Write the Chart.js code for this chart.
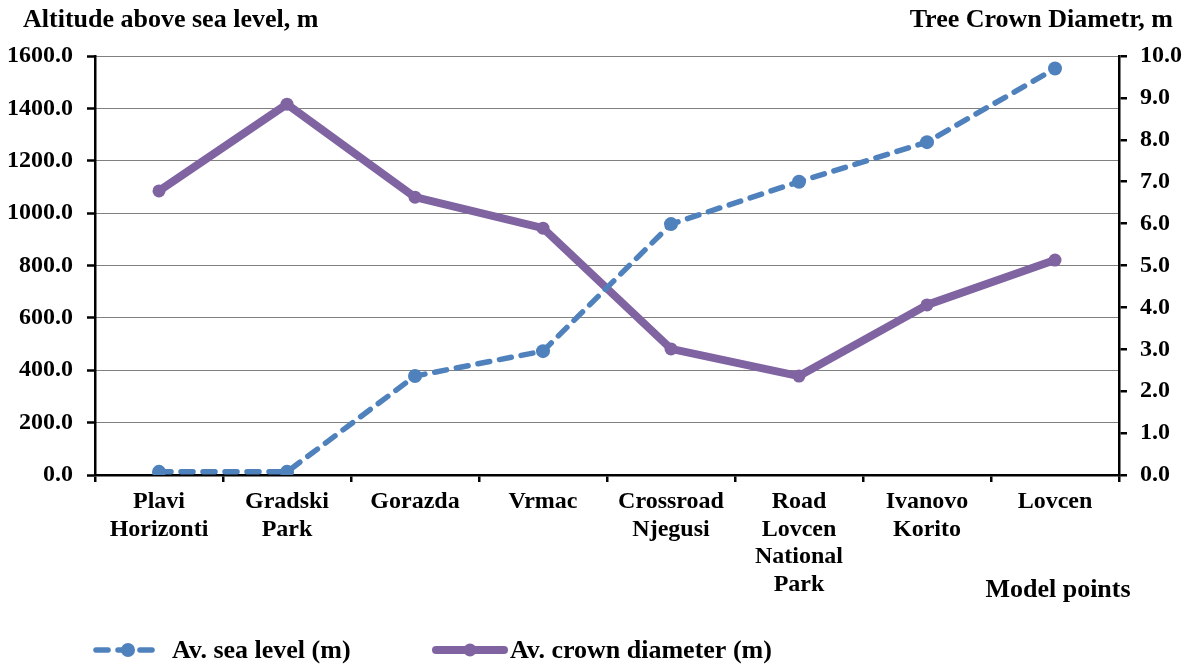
<!DOCTYPE html>
<html>
<head>
<meta charset="utf-8">
<script src="https://cdn.jsdelivr.net/npm/chart.js@4/dist/chart.umd.min.js"></script>
<style>
  html, body { margin: 0; padding: 0; background: #fff; }
  #wrap { width: 1192px; height: 667px; }
</style>
</head>
<body>
<div id="wrap"><canvas id="c" width="1192" height="667"></canvas></div>
<script>
// ---- data ----
const categories = [
  ['Plavi', 'Horizonti'],
  ['Gradski', 'Park'],
  'Gorazda',
  'Vrmac',
  ['Crossroad', 'Njegusi'],
  ['Road', 'Lovcen', 'National', 'Park'],
  ['Ivanovo', 'Korito'],
  'Lovcen'
];
const seaLevel = [12, 12, 378, 473, 958, 1120, 1271, 1552];
const crownDiameter = [6.78, 8.85, 6.63, 5.89, 3.01, 2.36, 4.06, 5.13];
const seriesNames = ['Av. sea level (m)', 'Av. crown diameter (m)'];
const leftTitle = 'Altitude above sea level, m';
const rightTitle = 'Tree Crown Diametr, m';
const xTitle = 'Model points';

const BLUE = '#4F81BD';
const PURPLE = '#8064A2';
const FONT = 'Liberation Serif';

const extras = {
  id: 'extras',
  afterDraw(chart) {
    const ctx = chart.ctx;
    ctx.save();
    ctx.fillStyle = '#000';
    ctx.font = 'bold 26px "' + FONT + '"';
    ctx.textBaseline = 'alphabetic';
    ctx.textAlign = 'left';
    ctx.fillText(leftTitle, 23, 27);
    ctx.textAlign = 'right';
    ctx.fillText(rightTitle, 1173, 27);
    ctx.textAlign = 'center';
    ctx.fillText(xTitle, 1058, 597);

    // legend
    const ly = 650;
    ctx.strokeStyle = BLUE;
    ctx.lineWidth = 5.5;
    ctx.lineCap = 'round';
    ctx.setLineDash([12, 10]);
    ctx.beginPath(); ctx.moveTo(96, ly); ctx.lineTo(158, ly); ctx.stroke();
    ctx.setLineDash([]);
    ctx.fillStyle = BLUE;
    ctx.beginPath(); ctx.arc(128, ly, 7, 0, Math.PI * 2); ctx.fill();
    ctx.strokeStyle = PURPLE;
    ctx.lineWidth = 8;
    ctx.beginPath(); ctx.moveTo(436, ly); ctx.lineTo(504, ly); ctx.stroke();
    ctx.fillStyle = PURPLE;
    ctx.beginPath(); ctx.arc(470, ly, 6.5, 0, Math.PI * 2); ctx.fill();

    ctx.fillStyle = '#000';
    ctx.textAlign = 'left';
    ctx.fillText(seriesNames[0], 172, 658);
    ctx.fillText(seriesNames[1], 510, 658);
    ctx.restore();
  }
};

const tickFont = { family: FONT, size: 24, weight: 'bold', lineHeight: 1.15 };

new Chart(document.getElementById('c'), {
  type: 'line',
  data: {
    labels: categories,
    datasets: [
      {
        label: seriesNames[0],
        data: seaLevel,
        yAxisID: 'y',
        borderColor: BLUE,
        backgroundColor: BLUE,
        borderWidth: 5.5,
        borderDash: [12, 10],
        borderCapStyle: 'round',
        pointRadius: 7,
        pointBorderWidth: 0,
        pointBackgroundColor: BLUE,
        tension: 0,
        fill: false
      },
      {
        label: seriesNames[1],
        data: crownDiameter,
        yAxisID: 'y1',
        borderColor: PURPLE,
        backgroundColor: PURPLE,
        borderWidth: 8,
        borderJoinStyle: 'round',
        borderCapStyle: 'round',
        pointRadius: 6.5,
        pointBorderWidth: 0,
        pointBackgroundColor: PURPLE,
        tension: 0,
        fill: false
      }
    ]
  },
  options: {
    responsive: false,
    animation: false,
    events: [],
    layout: { padding: { left: 0, right: 0, top: 56, bottom: 67 } },
    plugins: { legend: { display: false }, tooltip: { enabled: false }, title: { display: false } },
    scales: {
      x: {
        type: 'category',
        offset: true,
        grid: { offset: true, drawOnChartArea: false, drawTicks: true, tickLength: 7, color: '#000', lineWidth: 2.5 },
        border: { display: true, color: '#000', width: 2.5 },
        ticks: { color: '#000', font: tickFont, padding: 6, maxRotation: 0, minRotation: 0, autoSkip: false },
        afterFit(scale) { scale.height = 125; }
      },
      y: {
        type: 'linear',
        position: 'left',
        min: 0, max: 1600,
        ticks: { stepSize: 200, color: '#000', font: tickFont, padding: 14, callback: v => v.toFixed(1) },
        grid: { drawOnChartArea: true, drawTicks: true, tickLength: 8, color: '#000', lineWidth: 1, tickColor: '#000', tickWidth: 2.5 },
        border: { display: true, color: '#000', width: 2.5, dash: [1, 1] },
        afterFit(scale) { scale.width = 95; }
      },
      y1: {
        type: 'linear',
        position: 'right',
        min: 0, max: 10,
        ticks: { stepSize: 1, color: '#000', font: tickFont, padding: 13, callback: v => v.toFixed(1) },
        grid: { drawOnChartArea: false, drawTicks: true, tickLength: 8, color: '#000', lineWidth: 2.5 },
        border: { display: true, color: '#000', width: 2.5 },
        afterFit(scale) { scale.width = 73; }
      }
    }
  },
  plugins: [extras]
});
</script>
</body>
</html>
